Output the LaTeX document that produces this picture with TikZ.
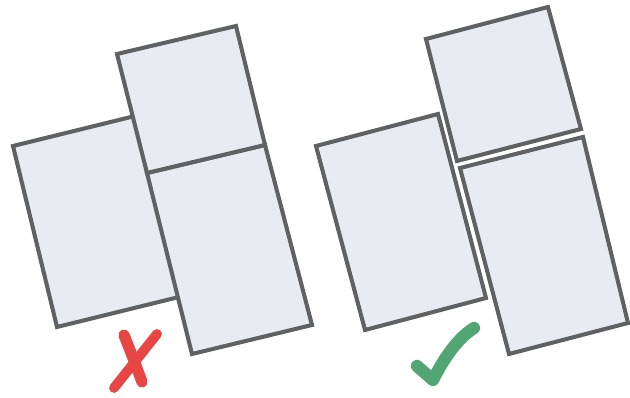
\documentclass[tikz,border=0pt]{standalone}
\usepackage{tikz}
\usetikzlibrary{arrows.meta,calc}
\definecolor{pgray}{HTML}{606162}
\definecolor{pfill}{HTML}{E8EBF1}
\definecolor{pred}{HTML}{E84545}
\definecolor{pgreen}{HTML}{52A673}
\tikzset{
  panel/.style={draw=pgray,fill=pfill,line width=2.3pt,line join=miter},
  badmark/.style={draw=pred,line width=6.4pt,line cap=round,line join=round},
  goodmark/.style={draw=pgreen,line width=7pt,line cap=round,line join=round},
}
\begin{document}
\begin{tikzpicture}[x=0.02cm,y=-0.02cm]
  \useasboundingbox (0,0) rectangle (630,398);
  \draw[panel] (13,146) -- (135,116) -- (179,297) -- (57,327) -- cycle;
  \draw[panel] (147,173) -- (265,145) -- (312,325) -- (192,354) -- cycle;
  \draw[panel] (117,54) -- (236,26) -- (265,145) -- (147,173) -- cycle;
  \draw[panel] (316,146) -- (438,114) -- (486,298) -- (365,330) -- cycle;
  \draw[panel] (426,39) -- (548,7) -- (581,129) -- (457,161) -- cycle;
  \draw[panel] (460,168) -- (583,137) -- (628,323) -- (509,354) -- cycle;
  \draw[badmark] (124,335) .. controls (130,350) and (137,368) .. (142,382);
  \draw[badmark,line width=5.6pt] (157,334) -- (114,388);
  \draw[goodmark] (417,366) -- (433,380) .. controls (444,358) and (458,338) .. (474,328);
\end{tikzpicture}
\end{document}
